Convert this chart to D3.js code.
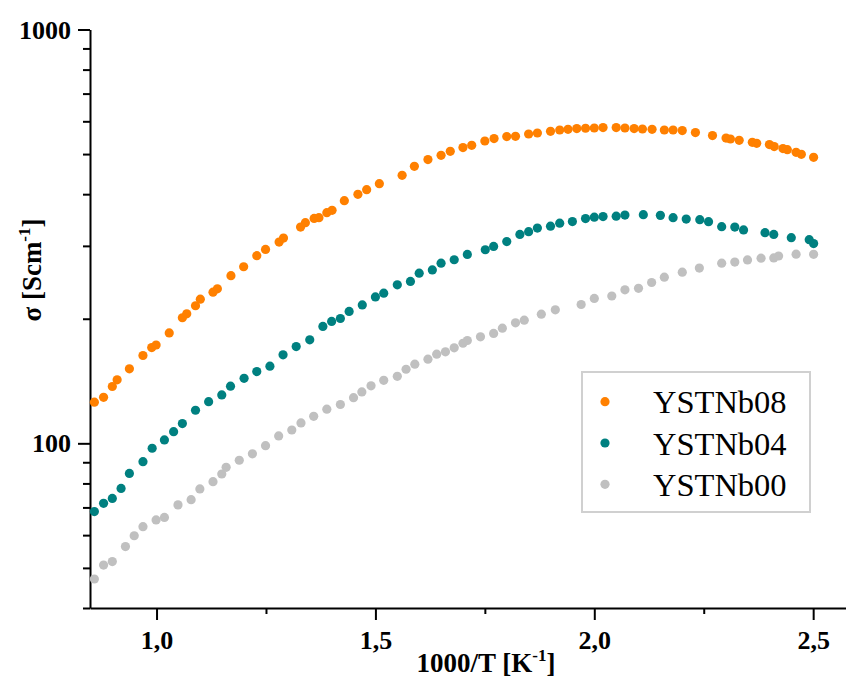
<!DOCTYPE html>
<html>
<head>
<meta charset="utf-8">
<script src="https://cdn.jsdelivr.net/npm/d3@7"></script>
<style>
  html, body { margin: 0; padding: 0; background: #fff; }
  svg { display: block; }
</style>
</head>
<body>
<svg id="chart" width="846" height="679"></svg>
<script>
// Series names (legend order)
const seriesNames = ["YSTNb08", "YSTNb04", "YSTNb00"];

// 1000/T [1/K] and conductivity sigma [S/cm] for each sample
const invT08 = [0.858,0.879,0.899,0.910,0.938,0.969,0.989,0.999,1.029,1.059,1.069,1.089,1.100,1.129,1.139,1.170,1.199,1.229,1.249,1.280,1.290,1.329,1.340,1.360,1.371,1.389,1.401,1.429,1.460,1.480,1.509,1.561,1.589,1.620,1.650,1.671,1.700,1.720,1.750,1.771,1.800,1.820,1.850,1.870,1.900,1.921,1.940,1.960,1.980,2.000,2.020,2.050,2.070,2.091,2.110,2.132,2.160,2.180,2.201,2.231,2.270,2.301,2.311,2.331,2.361,2.371,2.400,2.411,2.431,2.441,2.461,2.473,2.501];
const sigma08 = [125.7,129.2,137.2,142.4,151.4,163.0,170.4,172.8,184.8,201.1,205.6,215.0,223.0,231.9,236.3,254.1,267.1,284.1,294.2,306.4,313.3,333.1,341.3,349.6,351.0,360.9,365.6,385.8,399.6,410.2,424.1,444.2,467.0,484.8,496.6,507.8,518.4,525.0,537.7,544.9,551.1,552.0,559.1,562.2,567.5,571.6,573.9,576.1,577.2,578.1,579.3,579.3,578.1,576.1,574.9,573.9,571.6,571.6,569.7,563.4,554.1,546.7,543.7,539.8,533.8,530.9,527.0,521.2,515.4,512.5,504.9,499.3,491.0];

const invT04 = [0.858,0.879,0.899,0.919,0.938,0.969,0.990,1.018,1.039,1.059,1.089,1.119,1.149,1.169,1.200,1.229,1.259,1.289,1.319,1.350,1.380,1.400,1.420,1.440,1.470,1.500,1.519,1.550,1.580,1.600,1.630,1.650,1.680,1.710,1.751,1.770,1.800,1.830,1.850,1.870,1.900,1.921,1.950,1.980,2.000,2.020,2.050,2.070,2.112,2.151,2.180,2.210,2.241,2.261,2.291,2.321,2.341,2.390,2.410,2.450,2.491,2.501];
const sigma04 = [68.4,71.6,73.6,77.8,84.6,90.3,97.3,101.9,106.7,111.6,120.2,126.1,130.9,137.4,143.6,149.1,153.6,163.6,171.3,177.9,191.6,197.0,200.3,208.3,216.0,225.8,230.6,241.6,246.1,257.7,262.4,272.5,277.7,286.0,293.6,299.1,307.2,319.8,324.7,331.2,334.8,340.4,343.4,349.3,351.9,353.2,354.0,356.1,356.9,355.5,351.0,348.2,347.1,343.2,333.8,333.1,327.9,322.8,319.8,314.0,310.5,303.8];

const invT00 = [0.858,0.879,0.899,0.929,0.949,0.969,0.999,1.018,1.049,1.079,1.099,1.129,1.149,1.159,1.189,1.219,1.249,1.279,1.309,1.330,1.359,1.389,1.420,1.450,1.469,1.490,1.519,1.550,1.570,1.590,1.620,1.640,1.660,1.680,1.700,1.710,1.740,1.770,1.790,1.820,1.840,1.879,1.911,1.970,2.000,2.040,2.070,2.101,2.131,2.160,2.201,2.240,2.291,2.321,2.350,2.381,2.410,2.421,2.461,2.501];
const sigma00 = [47.0,50.8,51.8,56.3,59.8,62.9,65.3,66.2,71.0,73.1,77.6,80.8,84.3,87.5,91.0,94.3,98.7,104.2,107.7,112.0,116.2,120.9,124.1,128.9,133.1,137.7,142.0,145.2,151.0,155.3,159.7,164.2,166.4,170.1,174.5,177.2,180.9,184.3,189.8,195.5,198.4,205.1,210.2,216.5,223.9,227.0,234.9,236.9,244.7,252.1,259.2,265.1,272.5,274.1,277.5,280.1,280.5,283.6,286.5,286.3];

// Tick positions
const xMajorTicks = [1.0, 1.5, 2.0, 2.5];
const xMinorTicks = [1.25, 1.75, 2.25];
const yMajorTicks = [100, 1000];
const yMinorTicks = [40, 50, 60, 70, 80, 90, 200, 300, 400, 500, 600, 700, 800, 900];

const colors = { YSTNb08: "#ff8000", YSTNb04: "#008080", YSTNb00: "#c0c0c0" };
const FONT = "'Liberation Serif', 'Times New Roman', Times, serif";

const series = [
  { name: "YSTNb00", xs: invT00, ys: sigma00 },
  { name: "YSTNb04", xs: invT04, ys: sigma04 },
  { name: "YSTNb08", xs: invT08, ys: sigma08 }
];

const svg = d3.select("#chart");

const x = d3.scaleLinear().domain([0.848, 2.575]).range([90, 846]);
const y = d3.scaleLog().domain([40, 1000]).range([608, 29.5]);

const x0 = 90, yBase = 608;

// --- axes ---
const fmtX = d => d3.format(".1f")(d).replace(".", ",");

const gx = svg.append("g").attr("transform", `translate(0,${yBase})`)
  .call(d3.axisBottom(x).tickValues(xMajorTicks).tickSize(12).tickSizeOuter(0).tickFormat(fmtX));
gx.selectAll("text").attr("y", 41).attr("dy", null);

const gxm = svg.append("g").attr("transform", `translate(0,${yBase})`)
  .call(d3.axisBottom(x).tickValues(xMinorTicks).tickSize(6).tickFormat(""));
gxm.select(".domain").remove();

const gy = svg.append("g").attr("transform", `translate(${x0},0)`)
  .call(d3.axisLeft(y).tickValues(yMajorTicks).tickSize(12).tickSizeOuter(0).tickFormat(d3.format("d")));
gy.selectAll("text").attr("x", -19).attr("dy", "0.33em");

const gym = svg.append("g").attr("transform", `translate(${x0},0)`)
  .call(d3.axisLeft(y).tickValues(yMinorTicks).tickSize(7).tickFormat(""));
gym.select(".domain").remove();

svg.selectAll(".domain, .tick line").attr("stroke", "#000").attr("stroke-width", 2);
svg.selectAll(".tick text")
  .attr("font-family", FONT).attr("font-size", 26).attr("font-weight", "bold").attr("fill", "#000");

// --- data points ---
series.forEach(s => {
  svg.append("g").selectAll("circle")
    .data(d3.zip(s.xs, s.ys))
    .join("circle")
    .attr("cx", d => x(d[0]))
    .attr("cy", d => y(d[1]))
    .attr("r", 4.6)
    .attr("fill", colors[s.name]);
});

// --- axis titles ---
const xt = svg.append("text")
  .attr("x", 486).attr("y", 672)
  .attr("text-anchor", "middle")
  .attr("font-family", FONT).attr("font-size", 27).attr("font-weight", "bold");
xt.append("tspan").text("1000/T [K");
xt.append("tspan").attr("font-size", 17).attr("dy", -11).text("-1");
xt.append("tspan").attr("dy", 11).text("]");

const yt = svg.append("text")
  .attr("transform", "translate(41,270) rotate(-90)")
  .attr("text-anchor", "middle")
  .attr("font-family", FONT).attr("font-size", 27).attr("font-weight", "bold");
yt.append("tspan").text("σ [Scm");
yt.append("tspan").attr("font-size", 17).attr("dy", -11).text("-1");
yt.append("tspan").attr("dy", 11).text("]");

// --- legend ---
const lg = svg.append("g");
lg.append("rect")
  .attr("x", 582).attr("y", 372).attr("width", 228).attr("height", 140)
  .attr("fill", "#fff").attr("stroke", "#d0d0d0").attr("stroke-width", 2);
seriesNames.forEach((name, i) => {
  const cy = 401.7 + i * 41.3;
  lg.append("circle").attr("cx", 605).attr("cy", cy).attr("r", 4.6).attr("fill", colors[name]);
  lg.append("text").attr("x", 653).attr("y", cy + 11.6)
    .attr("font-family", FONT).attr("font-size", 32.5).attr("fill", "#000")
    .text(name);
});
</script>
</body>
</html>
